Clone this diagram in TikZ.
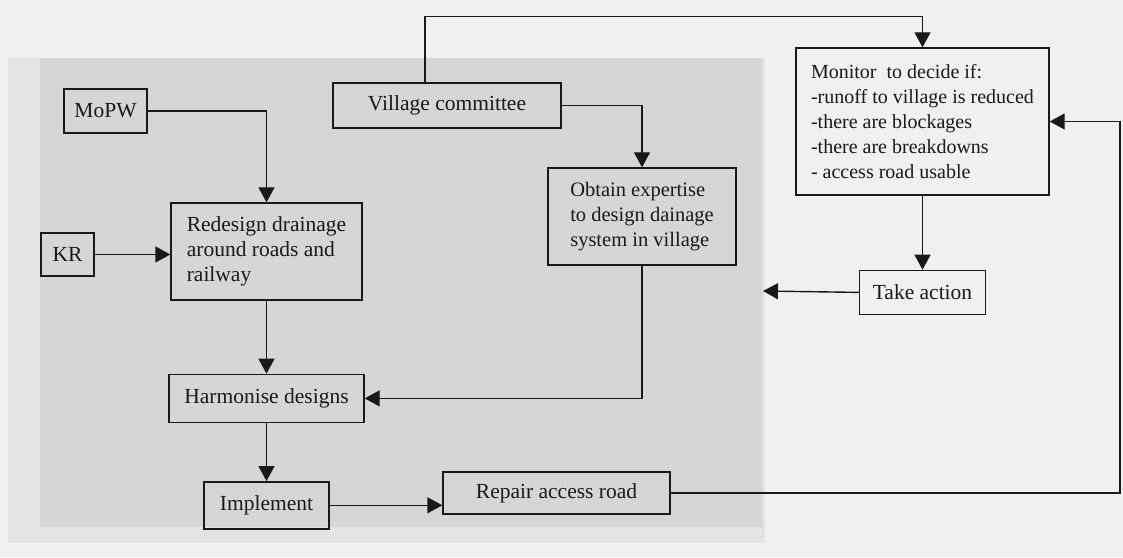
\documentclass[tikz,border=0pt]{standalone}
\usepackage{fontspec}
\setmainfont{Liberation Serif}
\usetikzlibrary{arrows.meta}
\usepackage{xcolor}
\definecolor{paper}{gray}{0.94}
\definecolor{panel}{gray}{0.84}
\definecolor{paneledge}{gray}{0.89}
\definecolor{ink}{gray}{0.1}

\begin{document}
\begin{tikzpicture}[x=1pt,y=1pt,line width=1.4pt,color=ink,
  box/.style={rectangle,draw,inner sep=0pt,font=\fontsize{21.5}{25}\selectfont},
  note/.style={box,align=left},
  arr/.style={-{Triangle[length=15pt,width=16pt]}}]
\useasboundingbox (0,0) rectangle (1123,557);
\fill [paper] (0,0) rectangle (1123,557);
\fill [paneledge] (8,14) rectangle (765,499);
\fill [panel] (40,30) rectangle (762,499);

\node [box,minimum width=83pt,minimum height=44pt] (mopw) at (105.5,446) {MoPW};
\node [box,minimum width=53pt,minimum height=43pt] (kr) at (67.5,302.5) {KR};
\node [box,minimum width=228pt,minimum height=45pt] (vc) at (447,451.5) {Village committee};
\node [note,minimum width=191pt,minimum height=97pt] (redesign) at (266.5,305.5) {Redesign drainage\\around roads and\\railway};
\node [note,minimum width=188pt,minimum height=97pt,font=\fontsize{20.5}{25}\selectfont] (obtain) at (642,340.5) {Obtain expertise\\to design dainage\\system in village};
\node [note,minimum width=253pt,minimum height=147pt,font=\fontsize{20}{25}\selectfont] (monitor) at (922.5,435.5) {Monitor\ \ to decide if:\\-runoff to village is reduced\\-there are blockages\\-there are breakdowns\\- access road usable};
\node [box,minimum width=195pt,minimum height=48pt,below=73pt,at=(redesign.south)] (harm) {Harmonise designs};
\node [box,minimum width=125pt,minimum height=47pt,below=58pt,at=(harm.south)] (impl) {Implement};
\node [box,minimum width=227pt,minimum height=42pt] (repair) at (556.5,64) {Repair access road};
\node [box,minimum width=126pt,minimum height=44pt,below=74pt,at=(monitor.south)] (take) {Take action};
\coordinate (loop) at (1120,435.5);
\coordinate (back) at (763,266);

\draw [arr] ([xshift=-22pt]vc.north) -- ++(0,66) -| (monitor.north);
\draw [arr] (mopw.east) -| (redesign.north);
\draw [arr] (kr.east) -- (kr.east -| redesign.west);
\draw [arr] (vc.east) -| (obtain.north);
\draw [arr] (redesign.south) -- (harm.north);
\draw [arr] (obtain.south) |- (harm.east);
\draw [arr] (harm.south) -- (impl.north);
\draw [arr] (impl.east) -- (impl.east -| repair.west);
\draw [arr] (repair.east) -| (loop) -- (monitor.east);
\draw [arr] (monitor.south) -- (take.north);
\draw [arr] (take.west) -- (back);
\end{tikzpicture}
\end{document}
